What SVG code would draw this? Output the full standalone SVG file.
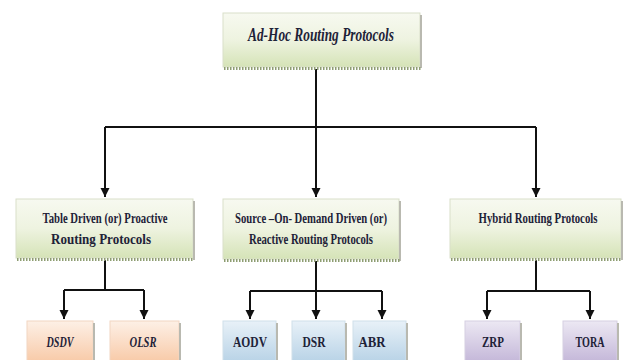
<svg xmlns="http://www.w3.org/2000/svg" width="626" height="360" viewBox="0 0 626 360">
<defs>
  <linearGradient id="gGreen" x1="0" y1="0" x2="0" y2="1">
    <stop offset="0" stop-color="#f7f9f0"/>
    <stop offset="0.5" stop-color="#eef3e0"/>
    <stop offset="1" stop-color="#d5e3b7"/>
  </linearGradient>
  <linearGradient id="gOrange" x1="0" y1="0" x2="0" y2="1">
    <stop offset="0" stop-color="#fdf0e6"/>
    <stop offset="1" stop-color="#f8c9a6"/>
  </linearGradient>
  <linearGradient id="gBlue" x1="0" y1="0" x2="0" y2="1">
    <stop offset="0" stop-color="#e8f1f8"/>
    <stop offset="1" stop-color="#b7d2e6"/>
  </linearGradient>
  <linearGradient id="gPurple" x1="0" y1="0" x2="0" y2="1">
    <stop offset="0" stop-color="#ece8f3"/>
    <stop offset="1" stop-color="#c3b6d8"/>
  </linearGradient>
  <marker id="arr" markerWidth="10" markerHeight="10" refX="9" refY="5" orient="auto" markerUnits="userSpaceOnUse">
    <path d="M0,0.5 L9,5 L0,9.5 Z" fill="#111"/>
  </marker>
</defs>
<style>
  .green { fill: url(#gGreen); stroke: #d9dfc9; stroke-width: 1; }
  .orange { fill: url(#gOrange); stroke: #f2d6c2; stroke-width: 1; }
  .blue { fill: url(#gBlue); stroke: #cfdfea; stroke-width: 1; }
  .purple { fill: url(#gPurple); stroke: #d6cfe2; stroke-width: 1; }
  .shadow { fill: none; stroke: #b9b9b0; stroke-width: 2; }
  .dash { fill: none; stroke: #8e9d72; stroke-width: 3; stroke-dasharray: 1.5 1.5; }
  .t { font-family: "Liberation Serif", "Times New Roman", serif; font-weight: bold; fill: #1e2238; text-anchor: middle; }
  .it { font-style: italic; }
  .conn { fill: none; stroke: #111; stroke-width: 2; }
</style>

<g id="connectors">
  <path class="conn" d="M316,69 V127"/>
  <path class="conn" d="M105,127 H536"/>
  <path class="conn" d="M105,127 V197" marker-end="url(#arr)"/>
  <path class="conn" d="M316,127 V197" marker-end="url(#arr)"/>
  <path class="conn" d="M536,127 V197" marker-end="url(#arr)"/>

  <path class="conn" d="M105,260 V290 M64,290 H144"/>
  <path class="conn" d="M64,290 V319" marker-end="url(#arr)"/>
  <path class="conn" d="M144,290 V319" marker-end="url(#arr)"/>

  <path class="conn" d="M316,261 V291 M250,291 H382"/>
  <path class="conn" d="M250,291 V319" marker-end="url(#arr)"/>
  <path class="conn" d="M316,291 V319" marker-end="url(#arr)"/>
  <path class="conn" d="M382,291 V319" marker-end="url(#arr)"/>

  <path class="conn" d="M536,260 V291 M487,291 H590"/>
  <path class="conn" d="M487,291 V319" marker-end="url(#arr)"/>
  <path class="conn" d="M590,291 V319" marker-end="url(#arr)"/>
</g>

<g id="adhoc">
  <rect class="green" x="223" y="13" width="197" height="54"/>
  <path class="shadow" d="M421,15 V68"/>
  <path class="dash" d="M224,68.5 H421"/>
  <text class="t it" x="321" y="41" font-size="18" textLength="146" lengthAdjust="spacingAndGlyphs">Ad-Hoc Routing Protocols</text>
</g>

<g id="proactive">
  <rect class="green" x="16" y="199" width="177" height="59"/>
  <path class="shadow" d="M194,201 V260"/>
  <path class="dash" d="M17,259.5 H194"/>
  <text class="t" x="105" y="223" font-size="15" textLength="125" lengthAdjust="spacingAndGlyphs">Table Driven (or) Proactive</text>
  <text class="t" x="101" y="244" font-size="15" textLength="100" lengthAdjust="spacingAndGlyphs">Routing Protocols</text>
</g>

<g id="reactive">
  <rect class="green" x="223" y="199" width="176" height="60"/>
  <path class="shadow" d="M400,201 V261"/>
  <path class="dash" d="M224,260.5 H400"/>
  <text class="t" x="311" y="223" font-size="15" textLength="152" lengthAdjust="spacingAndGlyphs">Source –On- Demand Driven (or)</text>
  <text class="t" x="311" y="244" font-size="15" textLength="124" lengthAdjust="spacingAndGlyphs">Reactive Routing Protocols</text>
</g>

<g id="hybrid">
  <rect class="green" x="450" y="199" width="171" height="59"/>
  <path class="shadow" d="M622,201 V260"/>
  <path class="dash" d="M451,259.5 H622"/>
  <text class="t" x="538" y="223" font-size="15" textLength="119" lengthAdjust="spacingAndGlyphs">Hybrid Routing Protocols</text>
</g>

<g id="dsdv">
  <rect class="orange" x="27" y="321" width="66" height="42"/>
  <path class="shadow" d="M94,323 V362"/>
  <text class="t it" x="60" y="347" font-size="15" textLength="27" lengthAdjust="spacingAndGlyphs">DSDV</text>
</g>
<g id="olsr">
  <rect class="orange" x="110" y="321" width="69" height="42"/>
  <path class="shadow" d="M180,323 V362"/>
  <text class="t it" x="143" y="347" font-size="15" textLength="27" lengthAdjust="spacingAndGlyphs">OLSR</text>
</g>

<g id="aodv">
  <rect class="blue" x="223" y="321" width="53" height="42"/>
  <path class="shadow" d="M277,323 V362"/>
  <text class="t" x="250" y="347" font-size="15" textLength="34" lengthAdjust="spacingAndGlyphs">AODV</text>
</g>
<g id="dsr">
  <rect class="blue" x="292" y="321" width="53" height="42"/>
  <path class="shadow" d="M346,323 V362"/>
  <text class="t" x="314" y="347" font-size="15" textLength="23" lengthAdjust="spacingAndGlyphs">DSR</text>
</g>
<g id="abr">
  <rect class="blue" x="353" y="321" width="53" height="42"/>
  <path class="shadow" d="M407,323 V362"/>
  <text class="t" x="372" y="347" font-size="15" textLength="27" lengthAdjust="spacingAndGlyphs">ABR</text>
</g>

<g id="zrp">
  <rect class="purple" x="465" y="321" width="55" height="42"/>
  <path class="shadow" d="M521,323 V362"/>
  <text class="t" x="493" y="347" font-size="15" textLength="22" lengthAdjust="spacingAndGlyphs">ZRP</text>
</g>
<g id="tora">
  <rect class="purple" x="563" y="321" width="54" height="42"/>
  <path class="shadow" d="M618,323 V362"/>
  <text class="t" x="590" y="347" font-size="15" textLength="29" lengthAdjust="spacingAndGlyphs">TORA</text>
</g>
</svg>
